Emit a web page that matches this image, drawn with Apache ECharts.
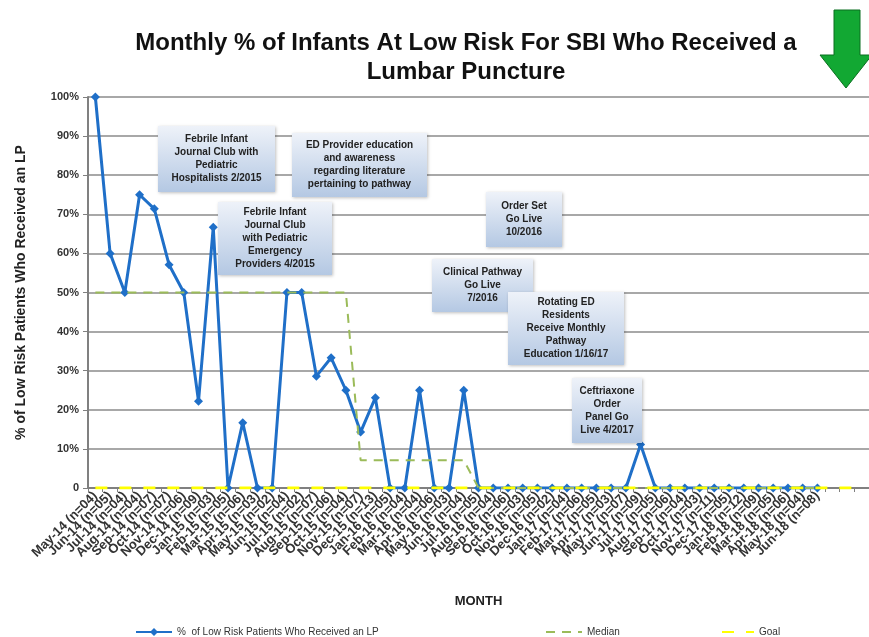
<!DOCTYPE html>
<html>
<head>
<meta charset="utf-8">
<script src="https://cdn.jsdelivr.net/npm/echarts@6/dist/echarts.min.js"></script>
<style>
  html, body { margin: 0; padding: 0; background: #fff; }
  #chart { width: 869px; height: 637px; }
</style>
</head>
<body>
<div id="chart"></div>
<script>
// month labels as printed under the axis (n = infants that month)
var months = ['May-14', 'Jun-14', 'Jul-14', 'Aug-14', 'Sep-14', 'Oct-14', 'Nov-14', 'Dec-14',
  'Jan-15', 'Feb-15', 'Mar-15', 'Apr-15', 'May-15', 'Jun-15', 'Jul-15', 'Aug-15', 'Sep-15', 'Oct-15', 'Nov-15', 'Dec-15',
  'Jan-16', 'Feb-16', 'Mar-16', 'Apr-16', 'May-16', 'Jun-16', 'Jul-16', 'Aug-16', 'Sep-16', 'Oct-16', 'Nov-16', 'Dec-16',
  'Jan-17', 'Feb-17', 'Mar-17', 'Apr-17', 'May-17', 'Jun-17', 'Jul-17', 'Aug-17', 'Sep-17', 'Oct-17', 'Nov-17', 'Dec-17',
  'Jan-18', 'Feb-18', 'Mar-18', 'Apr-18', 'May-18', 'Jun-18']
var counts = ['04', '05', '04', '04', '07', '07', '06', '09', '03', '05', '06', '03', '02', '04', '02', '07', '06', '04', '07', '13',
  '05', '04', '04', '06', '03', '04', '05', '04', '06', '03', '05', '02', '04', '06', '05', '03', '07', '09', '05', '06',
  '04', '03', '11', '05', '12', '09', '05', '06', '04', '08']
// empty slots at the right end of the axis (goal line runs on)
var extraSlots = 3

var lpPercent = [100, 60, 50, 75, 71.4, 57.1, 50, 22.2, 66.7, 0, 16.7, 0, 0, 50, 50, 28.6, 33.3, 25, 14.3, 23.1,
  0, 0, 25, 0, 0, 25, 0, 0, 0, 0, 0, 0, 0, 0, 0, 0, 0, 11.1, 0, 0,
  0, 0, 0, 0, 0, 0, 0, 0, 0, 0]
var median = [50, 50, 50, 50, 50, 50, 50, 50, 50, 50, 50, 50, 50, 50, 50, 50, 50, 50, 7.1, 7.1,
  7.1, 7.1, 7.1, 7.1, 7.1, 7.1, 0, 0, 0, 0, 0, 0, 0, 0, 0, 0, 0, 0, 0, 0,
  0, 0, 0, 0, 0, 0, 0, 0, 0, 0]
var goalValue = 0

var yTicks = [0, 10, 20, 30, 40, 50, 60, 70, 80, 90, 100]

var notes = [
  { text: 'Febrile Infant\nJournal Club with\nPediatric\nHospitalists 2/2015', x: 158, y: 126, w: 117, h: 66 },
  { text: 'ED Provider education\nand awareness\nregarding literature\npertaining to pathway', x: 292, y: 133, w: 135, h: 64 },
  { text: 'Febrile Infant\nJournal Club\nwith Pediatric\nEmergency\nProviders 4/2015', x: 218, y: 202, w: 114, h: 73 },
  { text: 'Order Set\nGo Live\n10/2016', x: 486, y: 192, w: 76, h: 55 },
  { text: 'Clinical Pathway\nGo Live\n7/2016', x: 432, y: 259, w: 101, h: 53 },
  { text: 'Rotating ED\nResidents\nReceive Monthly\nPathway\nEducation 1/16/17', x: 508, y: 292, w: 116, h: 73 },
  { text: 'Ceftriaxone\nOrder\nPanel Go\nLive 4/2017', x: 572, y: 378, w: 70, h: 65 }
]

var categories = months.map(function (m, i) { return m + ' (n=' + counts[i] + ')' })
for (var k = 0; k < extraSlots; k++) categories.push('')
var goal = categories.map(function () { return goalValue })

var FONT = '"Liberation Sans", Arial, sans-serif'
var seriesName = '%  of Low Risk Patients Who Received an LP'

var noteGraphics = notes.map(function (n) {
  return {
    type: 'group',
    x: n.x,
    y: n.y,
    z: 100,
    children: [{
      type: 'rect',
      z: 100,
      shape: { x: 0, y: 0, width: n.w, height: n.h },
      style: {
        fill: { type: 'linear', x: 0, y: 0, x2: 0, y2: 1,
          colorStops: [{ offset: 0, color: '#EEF2F9' }, { offset: 1, color: '#B4C8E3' }] },
        shadowBlur: 3, shadowColor: 'rgba(0,0,0,0.25)', shadowOffsetX: 1, shadowOffsetY: 1
      }
    }, {
      type: 'text',
      z: 101,
      x: n.w / 2,
      y: n.h / 2,
      style: {
        text: n.text,
        font: 'bold 10px ' + FONT,
        fill: '#222',
        align: 'center',
        verticalAlign: 'middle',
        lineHeight: 13
      }
    }]
  }
})

// green "lower is better" arrow, top right
noteGraphics.push({
  type: 'polygon',
  z: 100,
  shape: { points: [[834, 10], [860, 10], [860, 55], [872, 55], [846, 88], [820, 55], [834, 55]] },
  style: { fill: '#12A833', stroke: '#0B6E20', lineWidth: 1 }
})

var legendText = { fontSize: 10, color: '#333' }

var chart = echarts.init(document.getElementById('chart'))
chart.setOption({
  animation: false,
  textStyle: { fontFamily: FONT },
  title: {
    text: 'Monthly % of Infants At Low Risk For SBI Who Received a\nLumbar Puncture',
    left: 461,
    textAlign: 'center',
    top: 24,
    textStyle: { fontSize: 24, fontWeight: 'bold', color: '#111', lineHeight: 29, fontFamily: FONT }
  },
  grid: { left: 88, right: 0, top: 97, bottom: 149 },
  legend: [{
    left: 130, top: 622, itemWidth: 36, itemHeight: 10, itemGap: 4,
    data: [{ name: seriesName }],
    textStyle: legendText
  }, {
    left: 540, top: 622, itemWidth: 36, itemHeight: 10,
    data: [{ name: 'Median', itemStyle: { opacity: 0 } }],
    textStyle: legendText
  }, {
    left: 716, top: 622, itemWidth: 32, itemHeight: 10,
    data: [{ name: 'Goal', itemStyle: { opacity: 0 } }],
    textStyle: legendText
  }],
  xAxis: {
    type: 'category',
    data: categories,
    boundaryGap: true,
    name: 'MONTH',
    nameLocation: 'middle',
    nameGap: 107,
    nameTextStyle: { fontSize: 13, fontWeight: 'bold', color: '#222' },
    axisLine: { lineStyle: { color: '#808080', width: 2 } },
    axisTick: { show: true, interval: 0, length: 4, lineStyle: { color: '#808080' } },
    axisLabel: { interval: 0, rotate: 45, fontSize: 13, fontWeight: 'bold', color: '#333', margin: 6 },
    splitLine: { show: false }
  },
  yAxis: {
    type: 'value',
    min: 0,
    max: 100,
    interval: 10,
    name: '% of Low Risk Patients Who Received an LP',
    nameLocation: 'middle',
    nameGap: 60,
    nameTextStyle: { fontSize: 14, fontWeight: 'bold', color: '#222' },
    axisLine: { show: true, lineStyle: { color: '#808080', width: 2 } },
    axisTick: { show: true, length: 5, lineStyle: { color: '#808080' } },
    axisLabel: {
      fontSize: 11, fontWeight: 'bold', color: '#333', margin: 9,
      formatter: function (v) { return yTicks.indexOf(v) > 0 ? v + '%' : '0' }
    },
    splitLine: { lineStyle: { color: '#A8A8A8', width: 2 } }
  },
  series: [{
    name: seriesName,
    type: 'line',
    data: lpPercent,
    symbol: 'diamond',
    symbolSize: 9,
    z: 3,
    itemStyle: { color: '#1F6FC8' },
    lineStyle: { color: '#1F6FC8', width: 3 }
  }, {
    name: 'Median',
    type: 'line',
    data: median,
    symbol: 'none',
    z: 4,
    itemStyle: { color: '#9BBB59' },
    lineStyle: { color: '#9BBB59', width: 2, type: [9, 7] }
  }, {
    name: 'Goal',
    type: 'line',
    data: goal,
    symbol: 'none',
    z: 5,
    itemStyle: { color: '#FFFF00' },
    lineStyle: { color: '#FFFF00', width: 3, type: [12, 12] }
  }],
  graphic: noteGraphics
})
</script>
</body>
</html>
